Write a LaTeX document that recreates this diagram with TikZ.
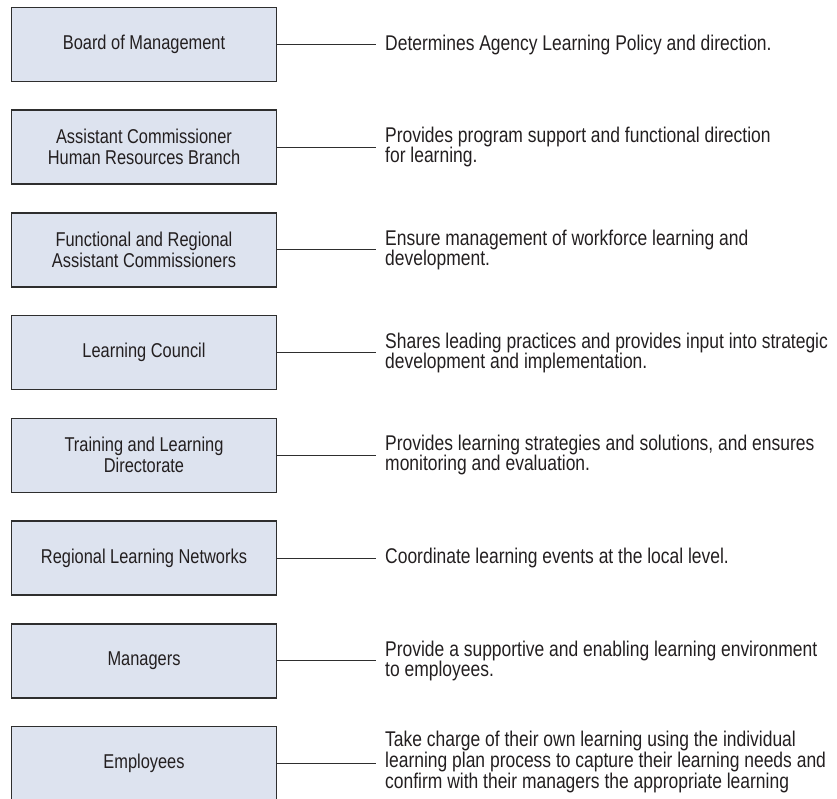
\documentclass[tikz,border=0pt]{standalone}
\usepackage{fontspec}
\setmainfont[FakeStretch=0.82]{Liberation Sans}
\definecolor{boxfill}{HTML}{DDE3EF}
\definecolor{boxline}{HTML}{2E2E2E}
\definecolor{txt}{HTML}{231F20}
\tikzset{
  orgbox/.style={draw=boxline, line width=1.6pt, fill=boxfill, minimum width=265pt, minimum height=74pt, align=center, inner sep=2pt, text=txt, font=\fontsize{20}{21}\selectfont},
  desc/.style={anchor=west, align=left, inner sep=0pt, text=txt, font=\fontsize{21.3}{20}\selectfont},
  link/.style={draw=boxline, line width=0.8pt}
}
\begin{document}
\begin{tikzpicture}[x=1pt,y=1pt]
\useasboundingbox (0,0) rectangle (837,-799);
\foreach \i/\nm/\bt/\dt in {
 0/b0/{Board of Management}/{Determines Agency Learning Policy and direction.},
 1/b1/{Assistant Commissioner\\Human Resources Branch}/{Provides program support and functional direction\\for learning.},
 2/b2/{Functional and Regional\\Assistant Commissioners}/{Ensure management of workforce learning and\\development.},
 3/b3/{Learning Council}/{Shares leading practices and provides input into strategic\\development and implementation.},
 4/b4/{Training and Learning\\Directorate}/{Provides learning strategies and solutions, and ensures\\monitoring and evaluation.},
 5/b5/{Regional Learning Networks}/{Coordinate learning events at the local level.},
 6/b6/{Managers}/{Provide a supportive and enabling learning environment\\to employees.}}
{
  \node[orgbox] (\nm) at (144,{-44.5-\i*102.7}) {\bt};
  \node[desc] (d\nm) at (385,{-44.5-\i*102.7}) {\dt};
  \coordinate (e\nm) at (376,{-44.5-\i*102.7});
  \draw[link] (\nm.east) -- (e\nm);
}
\node[orgbox] (b7) at (144,{-44.5-7*102.7}) {Employees};
\node[desc, font=\fontsize{21.3}{17.5}\selectfont] (db7) at (385,{-43-7*102.7}) {Take charge of their own learning using the individual\\learning plan process to capture their learning needs and\\confirm with their managers the appropriate learning};
\coordinate (eb7) at (376,{-44.5-7*102.7});
\draw[link] (b7.east) -- (eb7);
\end{tikzpicture}
\end{document}
